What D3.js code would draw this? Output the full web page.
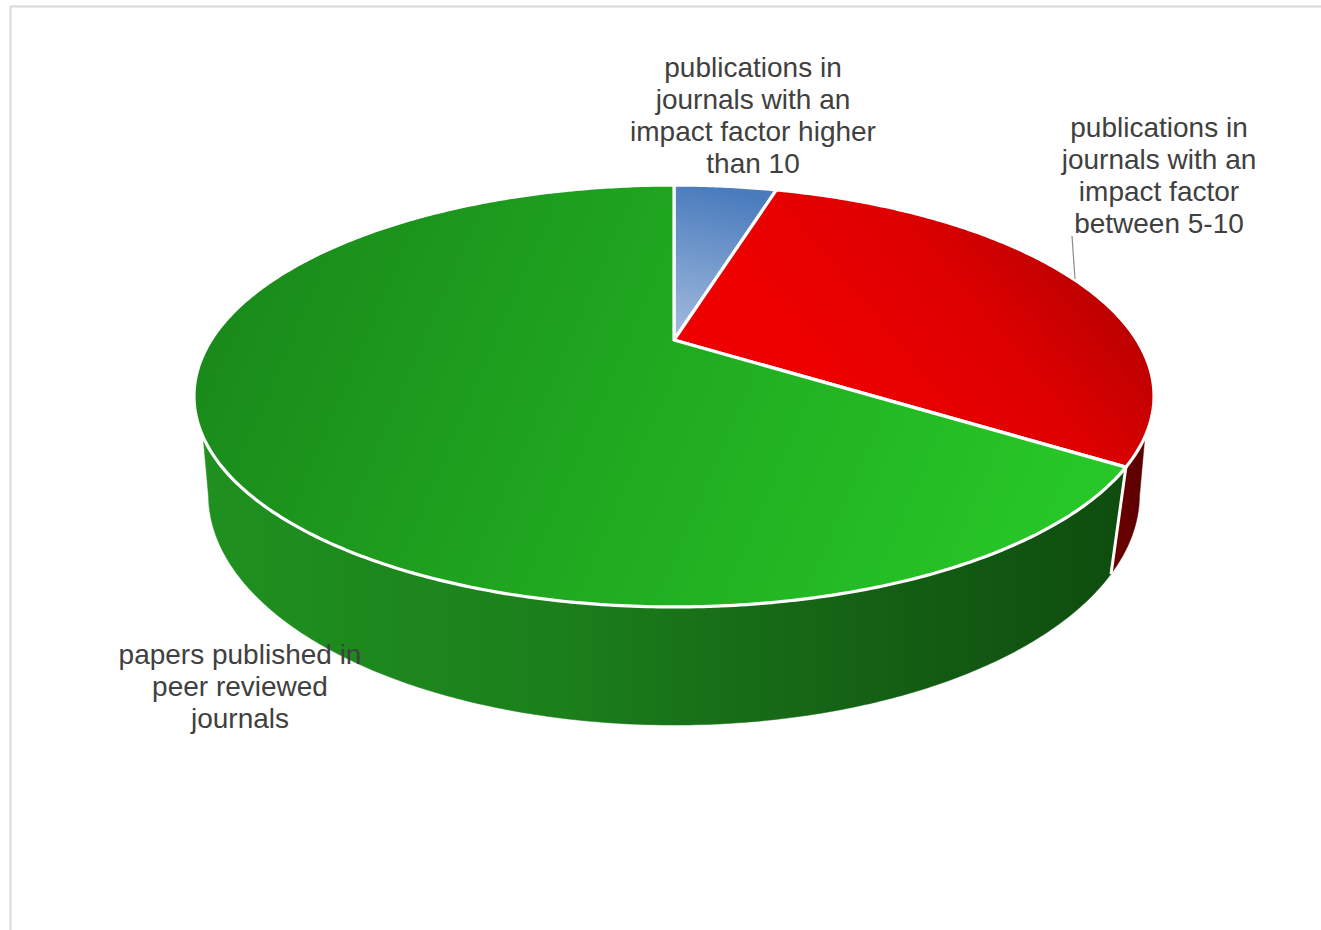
<!DOCTYPE html>
<html>
<head>
<meta charset="utf-8">
<script src="https://cdn.jsdelivr.net/npm/d3@7"></script>
<style>
  html, body { margin: 0; padding: 0; background: #ffffff; }
  svg { display: block; }
</style>
</head>
<body>
<svg id="chart" width="1321" height="930"></svg>
<script>
// ---- data ----
const categories = [
  "publications in journals with an impact factor higher than 10",
  "publications in journals with an impact factor between 5-10",
  "papers published in peer reviewed journals"
];
const values = [3, 20, 44];
const labelLines = [
  ["publications in", "journals with an", "impact factor higher", "than 10"],
  ["publications in", "journals with an", "impact factor", "between 5-10"],
  ["papers published in", "peer reviewed", "journals"]
];

// ---- layout / style ----
const W = 1321, H = 930;
const svg = d3.select("#chart");

svg.append("rect")
  .attr("x", 10.5).attr("y", 6.5)
  .attr("width", W + 10).attr("height", H + 10)
  .attr("fill", "#ffffff").attr("stroke", "#d9d9d9").attr("stroke-width", 2);

// perspective projection of the pie disc
const P = { cx: 674, cy: 340, c: 0.2654, k: 196.1, k2: 462.8, eB: 0.029, hB: 97.9 };
function proj(theta, bottom) {
  const u = Math.sin(theta), v = Math.cos(theta);
  const w = 1 + P.c * v + (bottom ? P.eB : 0);
  return [P.cx + P.k2 * u / w, P.cy + (-P.k * v + (bottom ? P.hB : 0)) / w];
}
function arcPts(a0, a1, bottom) {
  const n = Math.max(2, Math.ceil(Math.abs(a1 - a0) / 0.01));
  return d3.range(n + 1).map(i => proj(a0 + (a1 - a0) * i / n, bottom));
}
const line = d3.line();

const pie = d3.pie().sort(null).value(d => d)(values);

const defs = svg.append("defs");
function lin(id, x1, y1, x2, y2, stops) {
  const g = defs.append("linearGradient").attr("id", id)
    .attr("gradientUnits", "userSpaceOnUse")
    .attr("x1", x1).attr("y1", y1).attr("x2", x2).attr("y2", y2);
  stops.forEach(s => g.append("stop").attr("offset", s[0]).attr("stop-color", s[1]));
}
lin("gTop0", 720, 190, 690, 335, [[0, "#4a7cbd"], [1, "#a0b9dc"]]);
lin("gTop1", 860, 430, 1090, 240, [[0, "#ee0000"], [0.55, "#de0000"], [1, "#b50000"]]);
lin("gTop2", 260, 220, 1050, 560, [[0, "#1a8a1a"], [0.5, "#20aa20"], [1, "#27c727"]]);
lin("gSide2", 195, 0, 1115, 0, [[0, "#1f911f"], [0.4, "#1b7f1b"], [0.7, "#156315"], [1, "#0e4d0e"]]);
lin("gSide1", 1110, 0, 1150, 0, [[0, "#6e0000"], [1, "#580000"]]);
const topFill = ["url(#gTop0)", "url(#gTop1)", "url(#gTop2)"];
const sideFill = ["#2b4f7a", "url(#gSide1)", "url(#gSide2)"];

// visible wall range: bottom silhouette and where the wall emerges under the top rim
const thR = Math.acos(-P.c), thL = 2 * Math.PI - thR;
const vTop = -0.4372;
const tR = Math.acos(vTop), tL = 2 * Math.PI - tR;

const g = svg.append("g");
// side walls
pie.forEach((d, i) => {
  const blo = Math.max(d.startAngle, thR), bhi = Math.min(d.endAngle, thL);
  if (bhi <= blo) return;
  const tlo = Math.max(d.startAngle, tR), thi = Math.min(d.endAngle, tL);
  let pts;
  if (thi > tlo) pts = arcPts(tlo, thi, false).concat(arcPts(bhi, blo, true));
  else pts = [proj(tlo, false)].concat(arcPts(bhi, blo, true));
  g.append("path").attr("d", line(pts) + "Z")
    .attr("fill", sideFill[i]).attr("stroke", sideFill[i]).attr("stroke-width", 0.5);
});
// white vertical edges between walls
pie.forEach(d => {
  const a = d.startAngle;
  if (a > thR && a < thL) {
    g.append("path").attr("d", line([proj(a, false), proj(a, true)]))
      .attr("stroke", "#ffffff").attr("stroke-width", 3).attr("fill", "none");
  }
});
// top faces
pie.forEach((d, i) => {
  const pts = [[P.cx, P.cy]].concat(arcPts(d.startAngle, d.endAngle, false));
  g.append("path").attr("d", line(pts) + "Z")
    .attr("fill", topFill[i]).attr("stroke", "#ffffff")
    .attr("stroke-width", 3.2).attr("stroke-linejoin", "round");
});

// leader line for the red slice label
svg.append("line")
  .attr("x1", 1072).attr("y1", 236).attr("x2", 1075).attr("y2", 279)
  .attr("stroke", "#8c8c8c").attr("stroke-width", 1.2);

// labels
const labelPos = [[753, 77], [1159, 137], [240, 664]];
labelLines.forEach((lines, i) => {
  const t = svg.append("text")
    .attr("text-anchor", "middle")
    .attr("font-family", "'Liberation Sans', Arial, sans-serif")
    .attr("font-size", 28)
    .attr("fill", "#404040");
  lines.forEach((s, j) => {
    t.append("tspan").attr("x", labelPos[i][0]).attr("y", labelPos[i][1] + j * 32).text(s);
  });
});
</script>
</body>
</html>
